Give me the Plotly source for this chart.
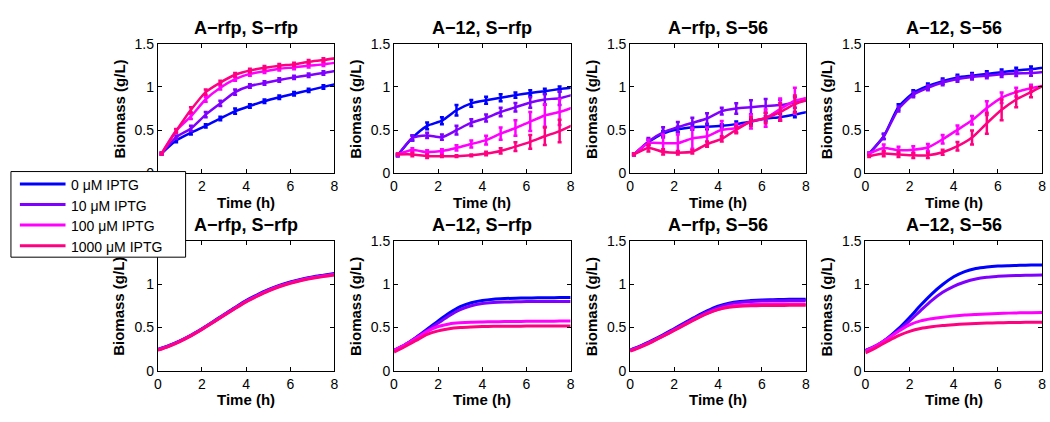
import plotly.graph_objects as go

W, H = 1050, 422

# ---- shared categories / styling -------------------------------------------
conditions = ["0 μM IPTG", "10 μM IPTG", "100 μM IPTG", "1000 μM IPTG"]
colors = ["#0000FF", "#8000FF", "#FF00FF", "#FF0080"]
strains = ["A−rfp, S−rfp", "A−12, S−rfp", "A−rfp, S−56", "A−12, S−56"]

x_ticks = [0, 2, 4, 6, 8]
y_ticks = [0, 0.5, 1, 1.5]
y_ticktext = ["0", "0.5", "1", "1.5"]

# ---- measured biomass (top row), mean and error at each sampling time -------
t_meas = [0.17, 0.83, 1.5, 2.17, 2.83, 3.5, 4.17, 4.83, 5.5, 6.17, 6.83, 7.5, 8.17]

# A-rfp, S-rfp
m1_0 = [0.23, 0.38, 0.47, 0.55, 0.635, 0.72, 0.78, 0.835, 0.88, 0.92, 0.96, 1.00, 1.04]
m1_10 = [0.23, 0.42, 0.52, 0.68, 0.81, 0.94, 1.01, 1.045, 1.08, 1.11, 1.135, 1.16, 1.19]
m1_100 = [0.23, 0.495, 0.66, 0.857, 0.99, 1.09, 1.15, 1.18, 1.21, 1.225, 1.245, 1.26, 1.285]
m1_1000 = [0.23, 0.49, 0.735, 0.94, 1.05, 1.14, 1.19, 1.22, 1.245, 1.26, 1.29, 1.31, 1.335]
e1_0 = [0.01, 0.02, 0.02, 0.02, 0.02, 0.03, 0.02, 0.02, 0.02, 0.02, 0.02, 0.02, 0]
e1_10 = [0.01, 0.02, 0.03, 0.03, 0.03, 0.03, 0.02, 0.02, 0.02, 0.02, 0.02, 0.02, 0]
e1_100 = [0.01, 0.02, 0.03, 0.03, 0.02, 0.02, 0.02, 0.02, 0.02, 0.02, 0.02, 0.02, 0]
e1_1000 = [0.01, 0.02, 0.03, 0.03, 0.02, 0.02, 0.02, 0.02, 0.02, 0.02, 0.02, 0.02, 0]

# A-12, S-rfp
m2_0 = [0.21, 0.41, 0.55, 0.61, 0.73, 0.81, 0.845, 0.875, 0.905, 0.93, 0.95, 0.975, 0.995]
m2_10 = [0.21, 0.41, 0.44, 0.42, 0.50, 0.587, 0.64, 0.71, 0.765, 0.82, 0.855, 0.87, 0.915]
m2_100 = [0.22, 0.27, 0.247, 0.26, 0.295, 0.34, 0.385, 0.46, 0.525, 0.60, 0.67, 0.71, 0.77]
m2_1000 = [0.22, 0.22, 0.20, 0.20, 0.20, 0.21, 0.23, 0.26, 0.31, 0.365, 0.43, 0.49, 0.57]
e2_0 = [0.01, 0.03, 0.04, 0.04, 0.06, 0.04, 0.04, 0.04, 0.03, 0.03, 0.03, 0.03, 0]
e2_10 = [0.01, 0.03, 0.03, 0.03, 0.05, 0.04, 0.04, 0.05, 0.05, 0.06, 0.06, 0.08, 0]
e2_100 = [0.01, 0.02, 0.02, 0.02, 0.03, 0.04, 0.05, 0.07, 0.09, 0.11, 0.13, 0.15, 0]
e2_1000 = [0.01, 0.02, 0.02, 0.01, 0.01, 0.01, 0.02, 0.03, 0.05, 0.08, 0.10, 0.13, 0]

# A-rfp, S-56
m3_0 = [0.22, 0.36, 0.46, 0.51, 0.535, 0.54, 0.55, 0.57, 0.60, 0.635, 0.65, 0.68, 0.715]
m3_10 = [0.22, 0.37, 0.475, 0.535, 0.585, 0.635, 0.72, 0.75, 0.765, 0.78, 0.79, 0.82, 0.845]
m3_100 = [0.22, 0.35, 0.35, 0.35, 0.405, 0.43, 0.505, 0.525, 0.60, 0.64, 0.745, 0.84, 0.88]
m3_1000 = [0.22, 0.295, 0.25, 0.24, 0.25, 0.34, 0.40, 0.505, 0.60, 0.64, 0.71, 0.80, 0.865]
e3_0 = [0.01, 0.03, 0.03, 0.03, 0.03, 0.03, 0.02, 0.03, 0.03, 0.03, 0.04, 0.03, 0]
e3_10 = [0.01, 0.04, 0.06, 0.06, 0.06, 0.06, 0.04, 0.06, 0.08, 0.08, 0.06, 0.06, 0]
e3_100 = [0.01, 0.04, 0.10, 0.10, 0.12, 0.10, 0.10, 0.05, 0.08, 0.10, 0.12, 0.15, 0]
e3_1000 = [0.01, 0.04, 0.03, 0.02, 0.02, 0.03, 0.03, 0.04, 0.05, 0.06, 0.10, 0.10, 0]

# A-12, S-56
m4_0 = [0.23, 0.43, 0.77, 0.93, 1.01, 1.067, 1.11, 1.13, 1.15, 1.17, 1.19, 1.205, 1.225]
m4_10 = [0.23, 0.425, 0.745, 0.91, 0.99, 1.05, 1.09, 1.115, 1.13, 1.145, 1.155, 1.16, 1.175]
m4_100 = [0.23, 0.295, 0.27, 0.275, 0.30, 0.395, 0.505, 0.615, 0.755, 0.875, 0.94, 0.985, 1.02]
m4_1000 = [0.20, 0.23, 0.22, 0.21, 0.21, 0.245, 0.315, 0.415, 0.58, 0.735, 0.855, 0.94, 1.03]
e4_0 = [0.01, 0.03, 0.03, 0.03, 0.03, 0.03, 0.03, 0.03, 0.03, 0.03, 0.03, 0.03, 0]
e4_10 = [0.01, 0.03, 0.03, 0.03, 0.03, 0.03, 0.03, 0.03, 0.03, 0.03, 0.03, 0.03, 0]
e4_100 = [0.01, 0.04, 0.04, 0.04, 0.04, 0.05, 0.05, 0.05, 0.08, 0.06, 0.05, 0.04, 0]
e4_1000 = [0.01, 0.03, 0.03, 0.03, 0.03, 0.03, 0.05, 0.08, 0.12, 0.12, 0.09, 0.06, 0]

# ---- model biomass (bottom row) ---------------------------------------------
t_model = [0, 0.5, 1, 1.5, 2, 2.5, 3, 3.5, 4, 4.5, 5, 5.5, 6, 6.5, 7, 7.5, 8]

s1_0 = [0.245, 0.29, 0.345, 0.41, 0.485, 0.565, 0.65, 0.73, 0.81, 0.875, 0.935, 0.985, 1.025, 1.057, 1.083, 1.103, 1.122]
s1_10 = [0.243, 0.288, 0.343, 0.408, 0.482, 0.562, 0.646, 0.726, 0.805, 0.87, 0.93, 0.98, 1.02, 1.052, 1.078, 1.098, 1.116]
s1_100 = [0.24, 0.285, 0.34, 0.405, 0.479, 0.559, 0.642, 0.722, 0.8, 0.865, 0.925, 0.975, 1.015, 1.047, 1.073, 1.093, 1.11]
s1_1000 = [0.237, 0.282, 0.337, 0.402, 0.476, 0.556, 0.638, 0.718, 0.795, 0.86, 0.92, 0.97, 1.01, 1.042, 1.068, 1.088, 1.105]

s2_0 = [0.235, 0.30, 0.385, 0.48, 0.575, 0.665, 0.74, 0.785, 0.81, 0.825, 0.833, 0.838, 0.84, 0.842, 0.843, 0.844, 0.845]
s2_10 = [0.235, 0.30, 0.38, 0.465, 0.55, 0.635, 0.705, 0.75, 0.775, 0.787, 0.793, 0.796, 0.798, 0.799, 0.80, 0.80, 0.80]
s2_100 = [0.235, 0.30, 0.375, 0.455, 0.51, 0.54, 0.553, 0.56, 0.563, 0.565, 0.567, 0.569, 0.57, 0.571, 0.572, 0.573, 0.573]
s2_1000 = [0.215, 0.28, 0.35, 0.42, 0.46, 0.485, 0.498, 0.505, 0.51, 0.512, 0.513, 0.514, 0.515, 0.516, 0.516, 0.517, 0.517]

s3_0 = [0.24, 0.29, 0.35, 0.415, 0.485, 0.555, 0.625, 0.69, 0.745, 0.78, 0.80, 0.81, 0.817, 0.82, 0.823, 0.825, 0.826]
s3_10 = [0.236, 0.286, 0.345, 0.41, 0.478, 0.548, 0.616, 0.68, 0.732, 0.767, 0.787, 0.798, 0.804, 0.807, 0.809, 0.81, 0.811]
s3_100 = [0.23, 0.28, 0.338, 0.402, 0.468, 0.536, 0.602, 0.662, 0.71, 0.742, 0.758, 0.765, 0.768, 0.769, 0.77, 0.77, 0.771]
s3_1000 = [0.226, 0.276, 0.334, 0.398, 0.464, 0.532, 0.598, 0.658, 0.705, 0.732, 0.745, 0.75, 0.752, 0.753, 0.754, 0.755, 0.755]

s4_0 = [0.235, 0.29, 0.375, 0.485, 0.615, 0.755, 0.885, 0.995, 1.085, 1.145, 1.18, 1.198, 1.208, 1.213, 1.217, 1.22, 1.222]
s4_10 = [0.235, 0.29, 0.37, 0.465, 0.575, 0.695, 0.81, 0.905, 0.975, 1.025, 1.06, 1.08, 1.09, 1.097, 1.10, 1.103, 1.105]
s4_100 = [0.225, 0.29, 0.37, 0.455, 0.53, 0.575, 0.60, 0.618, 0.632, 0.643, 0.65, 0.656, 0.661, 0.665, 0.668, 0.67, 0.672]
s4_1000 = [0.205, 0.27, 0.34, 0.405, 0.455, 0.488, 0.508, 0.522, 0.532, 0.54, 0.546, 0.55, 0.553, 0.556, 0.558, 0.56, 0.561]

measured = [
    ([m1_0, m1_10, m1_100, m1_1000], [e1_0, e1_10, e1_100, e1_1000]),
    ([m2_0, m2_10, m2_100, m2_1000], [e2_0, e2_10, e2_100, e2_1000]),
    ([m3_0, m3_10, m3_100, m3_1000], [e3_0, e3_10, e3_100, e3_1000]),
    ([m4_0, m4_10, m4_100, m4_1000], [e4_0, e4_10, e4_100, e4_1000]),
]
model = [
    [s1_0, s1_10, s1_100, s1_1000],
    [s2_0, s2_10, s2_100, s2_1000],
    [s3_0, s3_10, s3_100, s3_1000],
    [s4_0, s4_10, s4_100, s4_1000],
]

# ---- layout geometry (pixels) -----------------------------------------------
col_px = [(155, 333), (393, 571), (631, 808), (868, 1046)]
row_px = [(37, 172), (242, 377)]  # top, bottom of each row's plot box

FONT = "Liberation Sans, Arial, Helvetica, sans-serif"

fig = go.Figure()


def axis_names(r, c):
    n = r * 4 + c + 1
    return ("x" if n == 1 else f"x{n}"), ("y" if n == 1 else f"y{n}")


for c in range(4):
    means, errs = measured[c]
    xa, ya = axis_names(0, c)
    for k in range(4):
        fig.add_trace(go.Scatter(
            x=t_meas, y=means[k], xaxis=xa, yaxis=ya,
            mode="lines", name=conditions[k], legendgroup=conditions[k],
            showlegend=False,
            line=dict(color=colors[k], width=2.5, shape="spline", smoothing=0.6),
            error_y=dict(type="data", array=errs[k], visible=True,
                         color=colors[k], thickness=2.5, width=2),
        ))
    xa, ya = axis_names(1, c)
    for k in range(4):
        fig.add_trace(go.Scatter(
            x=t_model, y=model[c][k], xaxis=xa, yaxis=ya,
            mode="lines", name=conditions[k], legendgroup=conditions[k],
            showlegend=False,
            line=dict(color=colors[k], width=3, shape="spline", smoothing=0.8),
        ))

layout = dict(
    width=W, height=H,
    margin=dict(l=0, r=0, t=0, b=0),
    paper_bgcolor="white", plot_bgcolor="white",
    font=dict(family=FONT, size=14, color="black"),
    showlegend=False,
)

annotations = []
shapes = []
for r in range(2):
    top, bot = row_px[r]
    for c in range(4):
        left, right = col_px[c]
        xa, ya = axis_names(r, c)
        xkey = "xaxis" if xa == "x" else "xaxis" + xa[1:]
        ykey = "yaxis" if ya == "y" else "yaxis" + ya[1:]
        common = dict(
            showline=True, linecolor="black", linewidth=1, mirror="ticks",
            ticks="inside", ticklen=4, tickcolor="black", tickwidth=1,
            showgrid=False, zeroline=False,
            tickfont=dict(family=FONT, size=14, color="black"),
        )
        # the boxed legend sits over the top label of the lower-left axes
        ytext = list(y_ticktext)
        if r == 1 and c == 0:
            ytext[-1] = ""
        layout[xkey] = dict(common, domain=[left / W, right / W], range=[0, 8],
                            tickvals=x_ticks, anchor=ya)
        layout[ykey] = dict(common, domain=[1 - bot / H, 1 - top / H], range=[0, 1.5],
                            tickvals=y_ticks, ticktext=ytext, anchor=xa)
        cx = (left + right) / 2
        annotations.append(dict(
            text=f"<b>{strains[c]}</b>", x=cx / W, y=1 - (top - 16) / H,
            xref="paper", yref="paper", showarrow=False,
            font=dict(family=FONT, size=18, color="black"),
            xanchor="center", yanchor="middle",
        ))
        annotations.append(dict(
            text="<b>Time (h)</b>", x=cx / W, y=1 - (bot + 30) / H,
            xref="paper", yref="paper", showarrow=False,
            font=dict(family=FONT, size=15, color="black"),
            xanchor="center", yanchor="middle",
        ))
        annotations.append(dict(
            text="<b>Biomass (g/L)</b>", x=(left - 39) / W, y=1 - ((top + bot) / 2 + 1) / H,
            xref="paper", yref="paper", showarrow=False, textangle=-90,
            font=dict(family=FONT, size=15, color="black"),
            xanchor="center", yanchor="middle",
        ))

# ---- legend box (drawn over the neighbouring axes, like a boxed legend) ----
box_l, box_r, box_t, box_b = 7, 183, 170, 259
shapes.append(dict(
    type="rect", xref="paper", yref="paper", layer="above",
    x0=box_l / W, x1=box_r / W, y0=1 - box_b / H, y1=1 - box_t / H,
    fillcolor="white", line=dict(color="black", width=1),
))
row_y = [183, 204.3, 225.6, 247]
for k in range(4):
    yk = 1 - row_y[k] / H
    shapes.append(dict(
        type="line", xref="paper", yref="paper", layer="above",
        x0=16 / W, x1=62 / W, y0=yk, y1=yk,
        line=dict(color=colors[k], width=3),
    ))
    annotations.append(dict(
        text=conditions[k], x=66 / W, y=1 - (row_y[k] + 1) / H,
        xref="paper", yref="paper", showarrow=False,
        font=dict(family=FONT, size=14, color="black"),
        xanchor="left", yanchor="middle",
    ))

layout["annotations"] = annotations
layout["shapes"] = shapes

fig.update_layout(**layout)
fig.write_html("out.html")
